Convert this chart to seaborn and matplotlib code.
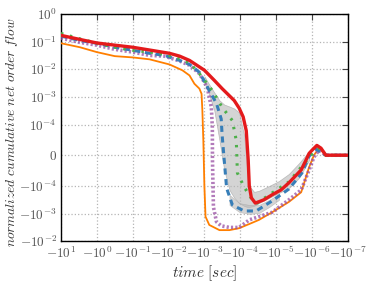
import numpy as np
import pandas as pd
import matplotlib
matplotlib.use("Agg")
import matplotlib.pyplot as plt
import matplotlib.ticker as mticker
import seaborn as sns

# ---------------- data (time in seconds, negative = before event) ----------------
red_t = [-10, -3.16, -1, -0.316, -0.1, -0.0338, -0.0094, -0.0049, -0.0026, -1.0e-3,
         -5.3e-4, -3.2e-4, -1.47e-4, -1.07e-4, -8.3e-5, -6.8e-5, -6.0e-5, -5.6e-5,
         -4.9e-5, -3.8e-5, -2.2e-5, -1.29e-5, -7.3e-6, -4.4e-6, -2.0e-6, -1.47e-6,
         -1.2e-6, -1.0e-6, -7.3e-7, -5.6e-7, -4.1e-7, -1.0e-7]
red_v = [0.17, 0.123, 0.09, 0.075, 0.063, 0.05, 0.038, 0.03, 0.021, 0.0093,
         0.004, 0.002, 7.4e-4, 3.9e-4, 1.9e-4, 0.8e-4, -0.16e-4, -1e-4,
         -2.7e-4, -4.2e-4, -3.2e-4, -2.1e-4, -1.4e-4, -0.9e-4, -0.48e-4, -0.16e-4,
         0.06e-4, 0.16e-4, 0.32e-4, 0.23e-4, 0.0, 0.0]

orange_t = [-10, -2.96, -1, -0.316, -0.1, -0.0338, -0.0094, -0.0041, -0.0026, -0.0019,
            -0.00138, -0.0012, -0.00114, -0.00107, -1.0e-3, -9.3e-4, -7.3e-4, -3.8e-4,
            -2.0e-4, -1.07e-4, -5.6e-5, -3.0e-5, -1.29e-5, -4.4e-6, -2.0e-6, -1.55e-6,
            -1.2e-6, -8.8e-7, -6.4e-7, -4.1e-7, -1.0e-7]
orange_v = [0.088, 0.063, 0.042, 0.03, 0.027, 0.023, 0.015, 0.0092, 0.006, 0.003,
            0.002, 0.0013, 3.3e-4, 0.48e-4, -1e-4, -1.3e-3, -2.6e-3, -4e-3,
            -4e-3, -3.4e-3, -2.4e-3, -1.7e-3, -9e-4, -3.8e-4, -1.7e-4, -0.8e-4,
            -0.39e-4, 0.0, 0.23e-4, 0.0, 0.0]

blue_t = [-10, -3.16, -1, -0.316, -0.1, -0.0338, -0.0129, -0.0049, -0.0026, -0.00138,
          -7.3e-4, -4.6e-4, -3.4e-4, -3.2e-4, -2.8e-4, -2.4e-4, -1.66e-4, -7.8e-5,
          -3.6e-5, -1.29e-5, -4.4e-6, -1.9e-6, -1.2e-6, -7.8e-7, -4.1e-7, -1.0e-7]
blue_v = [0.16, 0.113, 0.088, 0.063, 0.049, 0.038, 0.032, 0.021, 0.015, 0.0078,
          0.0017, 5.8e-4, 1.6e-4, 0.65e-4, -0.16e-4, -1.2e-4, -4.9e-4, -8.1e-4,
          -8.1e-4, -3.5e-4, -1.3e-4, -0.58e-4, -0.03e-4, 0.2e-4, 0.0, 0.0]

green_t = [-10, -3.16, -1, -0.316, -0.1, -0.0338, -0.0129, -0.0049, -0.0026, -0.00138,
           -6.0e-4, -3.2e-4, -1.66e-4, -1.29e-4, -1.2e-4, -7.8e-5, -4.6e-5, -3.4e-5,
           -1.29e-5, -4.4e-6, -2.0e-6, -1.07e-6, -6.4e-7, -4.1e-7, -1.0e-7]
green_v = [0.2, 0.13, 0.088, 0.063, 0.049, 0.042, 0.035, 0.025, 0.017, 0.007,
           0.0017, 4.2e-4, 1.4e-4, 0.48e-4, -0.58e-4, -1.1e-4, -3.2e-4, -4.2e-4,
           -1.8e-4, -0.87e-4, -0.39e-4, 0.0, 0.23e-4, 0.0, 0.0]

purple_t = [-10, -3.16, -1, -0.316, -0.1, -0.0338, -0.0129, -0.0049, -0.0026, -0.00138,
            -8.3e-4, -6.4e-4, -6.0e-4, -5.95e-4, -5.6e-4, -4.6e-4, -3.4e-4, -2.0e-4,
            -1.07e-4, -5.6e-5, -3.0e-5, -1.29e-5, -4.4e-6, -2.0e-6, -1.2e-6, -8.8e-7,
            -6.4e-7, -4.1e-7, -1.0e-7]
purple_v = [0.135, 0.096, 0.075, 0.053, 0.042, 0.032, 0.03, 0.02, 0.014, 0.007,
            0.0022, 4.2e-4, 0.9e-4, -0.16e-4, -5.8e-4, -2e-3, -2.8e-3, -3.2e-3,
            -3.2e-3, -1.7e-3, -1.3e-3, -9e-4, -3.2e-4, -1.4e-4, -0.48e-4, -0.06e-4,
            0.16e-4, 0.0, 0.0]

# confidence band around the green/blue runs
band_t = [-1.0e-3, -7.3e-4, -5.3e-4, -3.8e-4, -2.8e-4, -2.0e-4, -1.47e-4, -1.07e-4,
          -7.8e-5, -6.4e-5, -5.6e-5, -4.1e-5, -3.0e-5, -1.55e-5, -8.3e-6, -4.4e-6,
          -2.3e-6, -1.2e-6]
band_hi = [5.6e-3, 2.8e-3, 1.45e-3, 7.5e-4, 5.3e-4, 4.5e-4, 3.8e-4, 2.7e-4,
           0.65e-4, -0.48e-4, -1e-4, -1.65e-4, -1.5e-4, -1e-4, -0.84e-4, -0.61e-4,
           -0.26e-4, 0.13e-4]
band_lo = [3.4e-3, 1.2e-3, 3.2e-4, 0.48e-4, -0.48e-4, -1.4e-4, -2.7e-4, -4.2e-4,
           -5.3e-4, -5.8e-4, -5.8e-4, -5.3e-4, -4.2e-4, -2.7e-4, -1.8e-4, -1.2e-4,
           -0.74e-4, -0.16e-4]

bband_t = [-2.0e-4, -1.07e-4, -5.6e-5, -3.0e-5, -1.55e-5, -8.3e-6]
bband_hi = [-2.1e-4, -4.2e-4, -4.9e-4, -4.9e-4, -3.2e-4, -1.95e-4]
bband_lo = [-4.9e-4, -8.8e-4, -1.04e-3, -9.6e-4, -5.8e-4, -3.2e-4]

xticks = [-10, -1, -1e-1, -1e-2, -1e-3, -1e-4, -1e-5, -1e-6, -1e-7]
yticks = [-1e-2, -1e-3, -1e-4, 0, 1e-4, 1e-3, 1e-2, 1e-1, 1]

# ---------------- style ----------------
sns.set_style("white")
plt.rcParams["mathtext.fontset"] = "cm"
plt.rcParams["font.family"] = ["DejaVu Sans"]

fig = plt.figure(figsize=(3.74, 2.82), dpi=100)
ax = fig.add_axes([0.163, 0.145, 0.767, 0.805])

ax.fill_between(band_t, band_lo, band_hi, color="#b8b8b8", alpha=0.6,
                edgecolor="#9a9a9a", linewidth=0.5, zorder=1)
ax.fill_between(bband_t, bband_lo, bband_hi, color="#b8b8b8", alpha=0.6,
                edgecolor="#a0a0a0", linewidth=0.4, zorder=1)

def draw(t, v, **kw):
    df = pd.DataFrame({"t": t, "v": v})
    sns.lineplot(data=df, x="t", y="v", estimator=None, sort=False, ax=ax, **kw)

draw(orange_t, orange_v, color="#ff7f00", linewidth=1.3, zorder=3)
draw(purple_t, purple_v, color="#984ea3", linewidth=2.6, linestyle=(0, (0.6, 0.6)),
     alpha=0.75, zorder=3)
draw(blue_t, blue_v, color="#377eb8", linewidth=2.2, linestyle=(0, (2.0, 1.5)), zorder=4)
draw(green_t, green_v, color="#4daf4a", linewidth=2.2, linestyle=(0, (0.8, 2.2)), zorder=4)
draw(red_t, red_v, color="#e41a1c", linewidth=2.4, zorder=5)

ax.set_xscale("symlog", linthresh=1e-9)
ax.set_yscale("symlog", linthresh=1e-4)
ax.set_xlim(-10, -1e-7)
ax.set_ylim(-1e-2, 1)
ax.set_xticks(xticks)
ax.set_yticks(yticks)
ax.xaxis.set_minor_locator(mticker.NullLocator())
ax.yaxis.set_minor_locator(mticker.NullLocator())


def fmt(v, pos):
    if v == 0:
        return r"$0$"
    e = int(round(np.log10(abs(v))))
    sign = "-" if v < 0 else ""
    return r"$%s10^{%d}$" % (sign, e)


ax.xaxis.set_major_formatter(mticker.FuncFormatter(fmt))
ax.yaxis.set_major_formatter(mticker.FuncFormatter(fmt))

ax.grid(True, color="#b5b5b5", linestyle=":", linewidth=0.9)
for s in ax.spines.values():
    s.set_color("black")
    s.set_linewidth(1.0)
ax.tick_params(direction="in", top=True, right=True, length=4, width=0.8,
               labelsize=9.5, labelcolor="#555555", colors="#444444", pad=3)

ax.set_xlabel(r"$time\ [sec]$", fontsize=11, color="#333333")
ax.set_ylabel(r"$normalized\ cumulative\ net\ order\ flow$", fontsize=9.7,
              color="#333333")
ax.yaxis.set_label_coords(-0.142, 0.48)
ax.xaxis.set_label_coords(0.5, -0.10)

fig.savefig("out.png", dpi=100)
